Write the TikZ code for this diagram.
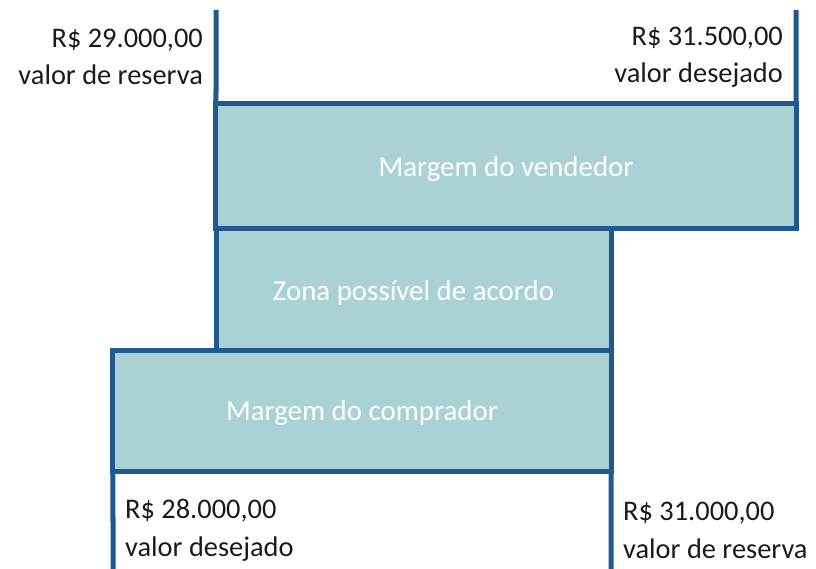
\documentclass[tikz,border=0pt]{standalone}
\usepackage{fontspec}
\setmainfont{Carlito}
\definecolor{boxfill}{HTML}{AAD2D5}
\definecolor{boxline}{HTML}{1F5A8E}
\definecolor{txt}{HTML}{1A1A1A}
\begin{document}
\begin{tikzpicture}[x=1bp,y=-1bp,
  zone/.style={draw=boxline,fill=boxfill,line width=5bp,rectangle,inner sep=0pt,outer sep=0pt,
    text=white,text depth=0pt,font=\fontsize{29}{34}\selectfont},
  edge/.style={draw=boxline,line width=5bp},
  lblr/.style={align=right,anchor=east,text=txt,font=\fontsize{28.5}{37}\selectfont,inner sep=0pt},
  lbll/.style={align=left,anchor=west,text=txt,font=\fontsize{28.5}{38}\selectfont,inner sep=0pt}]
\useasboundingbox (0,0) rectangle (816,569);
\node[zone,minimum width=395bp,minimum height=122bp] (zopa) at (413.5,290) {Zona possível de acordo};
\node[zone,minimum width=580bp,minimum height=124bp] (seller) at (506,166) {Margem do vendedor};
\node[zone,minimum width=498bp,minimum height=121bp] (buyer) at (362,410.5) {Margem do comprador};
\coordinate (t1) at (216,10);
\coordinate (t2) at (796,10);
\coordinate (b1) at (113,575);
\coordinate (b2) at (611,575);
\draw[edge] (t1) -- (seller.north west);
\draw[edge] (t2) -- (seller.north east);
\draw[edge] (buyer.south west) -- (b1);
\draw[edge] (buyer.south east) -- (b2);
\node[lblr] (l1) at (203,57) {R\$ 29.000,00\\valor de reserva};
\node[lblr] (l2) at (783,57) {R\$ 31.500,00\\valor desejado};
\node[lbll] (l3) at (125,530) {R\$ 28.000,00\\valor desejado};
\node[lbll] (l4) at (623,530) {R\$ 31.000,00\\valor de reserva};
\end{tikzpicture}
\end{document}
